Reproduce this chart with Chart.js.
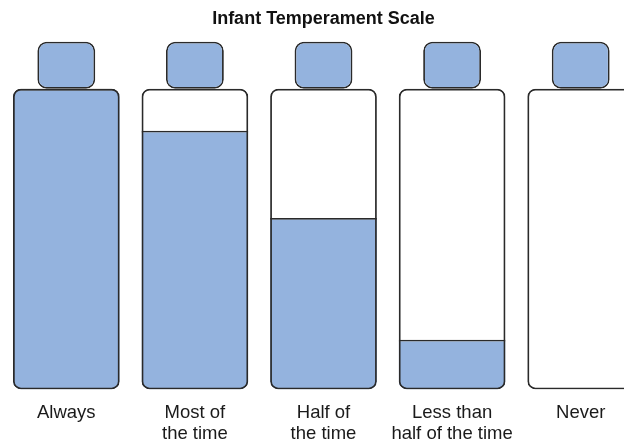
<!DOCTYPE html>
<html>
<head>
<meta charset="utf-8">
<script src="https://cdn.jsdelivr.net/npm/chart.js@4.4.1/dist/chart.umd.min.js"></script>
<style>
	html, body { margin: 0; padding: 0; background: #fff; overflow: hidden; }
	#wrap { position: absolute; left: 0; top: 0; width: 654px; height: 464px; }
</style>
</head>
<body>
<div id="wrap"><canvas id="chart" width="654" height="464"></canvas></div>
<script>
// Answer categories and how full each bottle is (percent)
const categories = ['Always', ['Most of', 'the time'], ['Half of', 'the time'], ['Less than', 'half of the time'], 'Never']
const fillLevels = [100, 86, 57, 16.5, 0]
const bottleTop = 100
const capTop = 115.6

const blue = '#94b3de'
const ink = '#2a2a2a'
const fontFamily = '"Liberation Sans", Arial, Helvetica, sans-serif'

// body background, liquid, body outline, cap
const bodyRange = categories.map(() => [0, bottleTop])
const fillRange = fillLevels.map(v => [0, v])
const capRange = categories.map(() => [bottleTop, capTop])

new Chart(document.getElementById('chart'), {
	type: 'bar',
	data: {
		labels: categories,
		datasets: [
			{
				label: 'body',
				data: bodyRange,
				backgroundColor: '#ffffff',
				borderWidth: 0,
				borderRadius: 8,
				borderSkipped: false,
				barPercentage: 0.83,
				categoryPercentage: 1,
				grouped: false,
				order: 4
			},
			{
				label: 'fill',
				data: fillRange,
				backgroundColor: blue,
				borderColor: ink,
				borderWidth: { top: 1.7, bottom: 0, left: 0, right: 0 },
				borderRadius: ctx => {
					const v = fillLevels[ctx.dataIndex]
					return v >= bottleTop ? 8 : { topLeft: 0, topRight: 0, bottomLeft: 8, bottomRight: 8 }
				},
				borderSkipped: false,
				barPercentage: 0.83,
				categoryPercentage: 1,
				grouped: false,
				order: 3
			},
			{
				label: 'outline',
				data: bodyRange,
				backgroundColor: 'rgba(0,0,0,0)',
				borderColor: ink,
				borderWidth: 1.8,
				borderRadius: 8,
				borderSkipped: false,
				barPercentage: 0.83,
				categoryPercentage: 1,
				grouped: false,
				order: 2
			},
			{
				label: 'cap',
				data: capRange,
				backgroundColor: blue,
				borderColor: ink,
				borderWidth: 1.8,
				borderRadius: 9,
				borderSkipped: false,
				barPercentage: 0.45,
				categoryPercentage: 1,
				grouped: false,
				order: 1
			}
		]
	},
	options: {
		responsive: false,
		animation: false,
		layout: {
			padding: { left: 2, right: 9, top: 0, bottom: 6 }
		},
		plugins: {
			legend: { display: false },
			tooltip: { enabled: false },
			title: {
				display: true,
				text: 'Infant Temperament Scale',
				color: '#111',
				font: { family: fontFamily, size: 18, weight: 'bold' },
				padding: { top: 8, bottom: 11 }
			}
		},
		scales: {
			x: {
				grid: { display: false, drawTicks: false },
				border: { display: false },
				ticks: {
					autoSkip: false,
					maxRotation: 0,
					padding: 13,
					color: '#1a1a1a',
					font: { family: fontFamily, size: 18.5, lineHeight: 1.15 }
				}
			},
			y: {
				display: false,
				min: 0,
				max: 116
			}
		}
	}
})
</script>
</body>
</html>
